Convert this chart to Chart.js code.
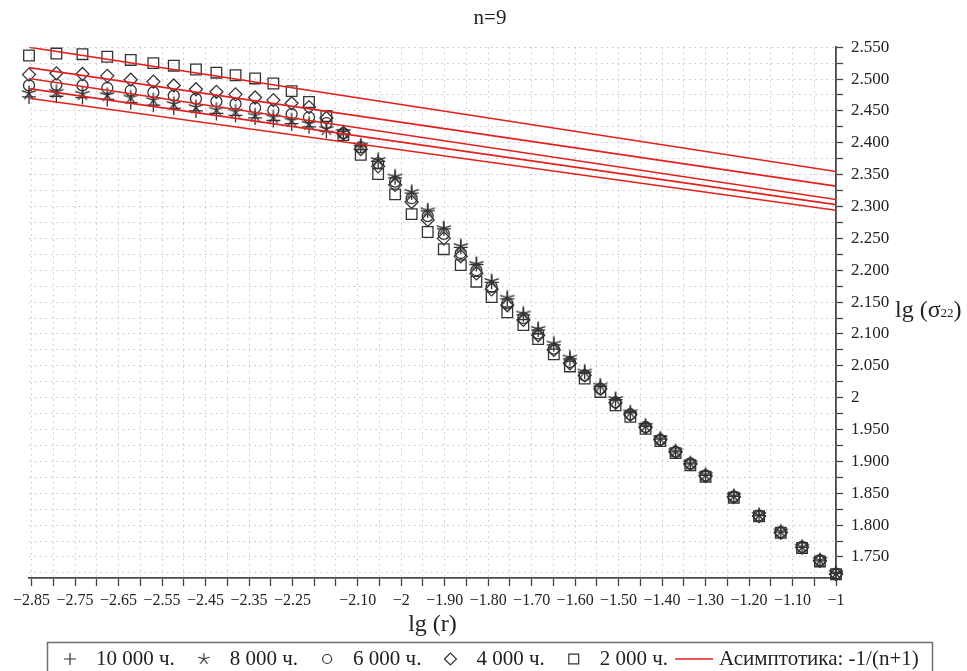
<!DOCTYPE html>
<html lang="ru">
<head>
<meta charset="utf-8">
<title>n=9</title>
<script src="https://cdn.jsdelivr.net/npm/chart.js@4.4.1/dist/chart.umd.min.js"></script>
<style>
  html, body { margin: 0; padding: 0; background: #fff; }
  #wrap { width: 967px; height: 671px; }
</style>
</head>
<body>
<div id="wrap"><canvas id="chartCanvas"></canvas></div>
<script>
"use strict";

// lg(r) of the computed points, shared by all five curves
const lgR = [
  -2.856, -2.793, -2.733, -2.676, -2.622, -2.570, -2.523, -2.472, -2.425, -2.381,
  -2.336, -2.294, -2.252, -2.212, -2.172, -2.133, -2.093, -2.053, -2.014, -1.976,
  -1.939, -1.902, -1.863, -1.827, -1.792, -1.756, -1.719, -1.685, -1.649, -1.612,
  -1.578, -1.542, -1.507, -1.473, -1.438, -1.404, -1.369, -1.335, -1.300, -1.235,
  -1.177, -1.127, -1.078, -1.037, -1.000,
];

// lg(sigma22) for each time
const sigma10000 = [
  2.472, 2.473, 2.471, 2.468, 2.463, 2.459, 2.454, 2.450, 2.446, 2.443,
  2.439, 2.435, 2.430, 2.425, 2.418, 2.414, 2.395, 2.371, 2.345, 2.321,
  2.293, 2.265, 2.236, 2.209, 2.181, 2.155, 2.130, 2.106, 2.083, 2.061,
  2.040, 2.018, 1.997, 1.976, 1.955, 1.935, 1.915, 1.896, 1.878, 1.845,
  1.815, 1.789, 1.765, 1.744, 1.724,
];
const sigma8000 = [
  2.478, 2.480, 2.477, 2.475, 2.471, 2.467, 2.461, 2.456, 2.452, 2.449,
  2.443, 2.440, 2.435, 2.430, 2.422, 2.417, 2.396, 2.373, 2.347, 2.323,
  2.294, 2.266, 2.238, 2.210, 2.183, 2.157, 2.132, 2.108, 2.085, 2.063,
  2.041, 2.019, 1.998, 1.977, 1.956, 1.936, 1.916, 1.897, 1.879, 1.846,
  1.816, 1.790, 1.766, 1.745, 1.725,
];
const sigma6000 = [
  2.490, 2.491, 2.490, 2.486, 2.482, 2.479, 2.474, 2.469, 2.465, 2.461,
  2.455, 2.451, 2.445, 2.440, 2.431, 2.415, 2.393, 2.368, 2.339, 2.313,
  2.285, 2.257, 2.227, 2.200, 2.174, 2.148, 2.125, 2.101, 2.077, 2.056,
  2.035, 2.014, 1.993, 1.974, 1.954, 1.934, 1.915, 1.897, 1.878, 1.845,
  1.815, 1.789, 1.766, 1.745, 1.724,
];
const sigma4000 = [
  2.507, 2.509, 2.508, 2.505, 2.499, 2.496, 2.490, 2.484, 2.480, 2.476,
  2.471, 2.467, 2.462, 2.456, 2.439, 2.415, 2.390, 2.363, 2.334, 2.307,
  2.279, 2.250, 2.222, 2.195, 2.170, 2.145, 2.122, 2.098, 2.075, 2.054,
  2.035, 2.014, 1.992, 1.973, 1.953, 1.934, 1.915, 1.896, 1.877, 1.844,
  1.814, 1.788, 1.765, 1.744, 1.723,
];
const sigma2000 = [
  2.537, 2.540, 2.539, 2.535, 2.530, 2.525, 2.521, 2.515, 2.510, 2.506,
  2.501, 2.493, 2.481, 2.464, 2.442, 2.412, 2.381, 2.351, 2.319, 2.288,
  2.260, 2.233, 2.208, 2.182, 2.158, 2.134, 2.114, 2.092, 2.068, 2.049,
  2.030, 2.009, 1.988, 1.970, 1.951, 1.932, 1.913, 1.894, 1.876, 1.843,
  1.814, 1.788, 1.764, 1.743, 1.723,
];

// asymptotic straight lines, end points only
const asymX = [-2.856, -1.0];
const asym10000 = [2.470, 2.294];
const asym8000 = [2.485, 2.303];
const asym6000 = [2.501, 2.311];
const asym4000 = [2.518, 2.332];
const asym2000 = [2.550, 2.355];

const seriesLabels = ["10 000 ч.", "8 000 ч.", "6 000 ч.", "4 000 ч.", "2 000 ч."];
const asymLabel = "Асимптотика: -1/(n+1)";

const xTickLabels = [
  "−2.85", "−2.75", "−2.65", "−2.55", "−2.45", "−2.35", "−2.25",
  "−2.10", "−2", "−1.90", "−1.80", "−1.70", "−1.60", "−1.50",
  "−1.40", "−1.30", "−1.20", "−1.10", "−1",
];
const yTickLabels = [
  "2.550", "2.500", "2.450", "2.400", "2.350", "2.300", "2.250", "2.200", "2.150",
  "2.100", "2.050", "2", "1.950", "1.900", "1.850", "1.800", "1.750",
];

const INK = "#333";
const RED = "#e3211c";
const SERIF = "'Liberation Serif', 'Times New Roman', serif";

// five-armed asterisk used for the 8 000 h points
function asterisk(r, lw) {
  const c = document.createElement("canvas");
  const s = 2 * Math.ceil(r + lw);
  c.width = s;
  c.height = s;
  const g = c.getContext("2d");
  g.strokeStyle = INK;
  g.lineWidth = lw;
  g.lineCap = "round";
  g.beginPath();
  for (let k = 0; k < 5; k++) {
    const a = -Math.PI / 2 + (k * 2 * Math.PI) / 5;
    g.moveTo(s / 2, s / 2);
    g.lineTo(s / 2 + r * Math.cos(a), s / 2 + r * Math.sin(a));
  }
  g.stroke();
  return c;
}

const starBig = asterisk(7, 1.4);
const starSmall = asterisk(5.5, 1.2);

const markerStyles = [
  { pointStyle: "cross", radius: 7, legendStyle: "cross", legendRadius: 6 },
  { pointStyle: starBig, radius: 7, legendStyle: starSmall, legendRadius: 5.5 },
  { pointStyle: "circle", radius: 5.5, legendStyle: "circle", legendRadius: 4.5 },
  { pointStyle: "rectRot", radius: 6.5, legendStyle: "rectRot", legendRadius: 6 },
  { pointStyle: "rect", radius: 7.5, legendStyle: "rect", legendRadius: 7 },
];

const seriesValues = [sigma10000, sigma8000, sigma6000, sigma4000, sigma2000];
const asymValues = [asym10000, asym8000, asym6000, asym4000, asym2000];

function stepTicks(from, to, step) {
  const out = [];
  const n = Math.round((to - from) / step);
  for (let i = 0; i <= n; i++) out.push({ value: +(from + i * step).toFixed(4) });
  return out;
}

const toNum = (s) => Number(s.replace("−", "-"));
function labelFor(list, value) {
  return list.find((s) => Math.abs(toNum(s) - value) < 1e-6) || "";
}

const markerSets = seriesValues.map((vals, i) => ({
  label: seriesLabels[i],
  data: lgR.map((x, k) => ({ x, y: vals[k] })),
  pointStyle: markerStyles[i].pointStyle,
  pointRadius: markerStyles[i].radius,
  borderColor: INK,
  backgroundColor: "rgba(0,0,0,0)",
  borderWidth: 1.3,
  showLine: false,
  clip: false,
  order: 1,
}));

const asymSets = asymValues.map((vals) => ({
  label: asymLabel,
  data: asymX.map((x, k) => ({ x, y: vals[k] })),
  showLine: true,
  borderColor: RED,
  borderWidth: 1.6,
  pointRadius: 0,
  order: 0,
}));

// boxed legend under the x axis title
const legendBox = {
  id: "legendBox",
  afterDraw(chart) {
    const ctx = chart.ctx;
    const top = 642;
    const cy = 659;
    ctx.save();
    ctx.strokeStyle = "#6e6e6e";
    ctx.lineWidth = 1.5;
    ctx.strokeRect(47.5, top + 0.5, 885, 40);

    ctx.font = "21px " + SERIF;
    ctx.textBaseline = "middle";
    let x = 70;
    seriesLabels.forEach((label, i) => {
      ctx.fillStyle = "rgba(0,0,0,0)";
      ctx.strokeStyle = INK;
      ctx.lineWidth = 1.2;
      Chart.helpers.drawPoint(ctx, {
        pointStyle: markerStyles[i].legendStyle,
        radius: markerStyles[i].legendRadius,
        rotation: 0,
        borderWidth: 1.2,
      }, x, cy);
      x += 26;
      ctx.fillStyle = "#222";
      ctx.fillText(label, x, cy);
      x += ctx.measureText(label).width;
      if (i < seriesLabels.length - 1) x += 29;
    });

    x += 7;
    ctx.strokeStyle = RED;
    ctx.lineWidth = 1.6;
    ctx.beginPath();
    ctx.moveTo(x, cy);
    ctx.lineTo(x + 38, cy);
    ctx.stroke();
    ctx.fillStyle = "#222";
    ctx.fillText(asymLabel, x + 44, cy);
    ctx.restore();
  },
};

// horizontal y-axis title with subscript, right of the tick labels
const yAxisTitle = {
  id: "yAxisTitle",
  afterDraw(chart) {
    const ctx = chart.ctx;
    const base = chart.scales.y.getPixelForValue(2.126);
    let x = chart.chartArea.right + 59;
    ctx.save();
    ctx.fillStyle = "#222";
    ctx.textBaseline = "alphabetic";
    ctx.font = "24px " + SERIF;
    ctx.fillText("lg (σ", x, base);
    x += ctx.measureText("lg (σ").width;
    ctx.font = "13px " + SERIF;
    ctx.fillText("22", x, base);
    x += ctx.measureText("22").width;
    ctx.font = "24px " + SERIF;
    ctx.fillText(")", x, base);
    ctx.restore();
  },
};

Chart.defaults.font.family = SERIF;
Chart.defaults.color = "#222";

const ctx = document.getElementById("chartCanvas").getContext("2d");

new Chart(ctx, {
  type: "scatter",
  data: { datasets: [...markerSets, ...asymSets] },
  options: {
    responsive: true,
    maintainAspectRatio: false,
    animation: false,
    events: [],
    layout: { padding: { left: 29, right: 16, top: 0, bottom: 31 } },
    plugins: {
      legend: { display: false },
      tooltip: { enabled: false },
      title: {
        display: true,
        text: "n=9",
        color: "#222",
        font: { size: 21, weight: "normal" },
        padding: { top: 6, bottom: 16 },
      },
    },
    scales: {
      x: {
        type: "linear",
        position: "bottom",
        min: -2.856,
        max: -1.0,
        afterBuildTicks: (s) => { s.ticks = stepTicks(-2.85, -1.0, 0.05); },
        afterFit: (s) => { s.height = 62; },
        ticks: {
          autoSkip: false,
          maxRotation: 0,
          minRotation: 0,
          padding: 5,
          font: { size: 16 },
          callback: (v) => labelFor(xTickLabels, v),
        },
        grid: {
          color: "#c6c6c6",
          lineWidth: 1,
          tickLength: 8,
          tickColor: "#444",
          tickWidth: 1.3,
        },
        border: { display: true, color: "#4a4a4a", width: 1.8, dash: [1.5, 4] },
        title: {
          display: true,
          text: "lg (r)",
          font: { size: 24 },
          padding: { top: 0, bottom: 1 },
        },
      },
      y: {
        type: "linear",
        position: "right",
        min: 1.717,
        max: 2.55,
        afterBuildTicks: (s) => { s.ticks = stepTicks(1.725, 2.55, 0.025); },
        afterFit: (s) => { s.width = 115; },
        ticks: {
          autoSkip: false,
          padding: 8,
          font: { size: 17 },
          callback: (v) => labelFor(yTickLabels, v),
        },
        grid: {
          color: "#c6c6c6",
          lineWidth: 1,
          tickLength: 7,
          tickColor: "#444",
          tickWidth: 1.3,
        },
        border: { display: true, color: "#4a4a4a", width: 1.8, dash: [1.5, 4] },
      },
    },
  },
  plugins: [legendBox, yAxisTitle],
});
</script>
</body>
</html>
